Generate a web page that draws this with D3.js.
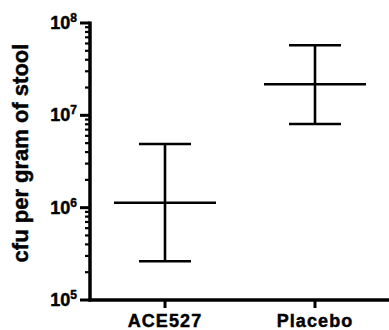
<!DOCTYPE html>
<html>
<head>
<meta charset="utf-8">
<script src="https://cdn.jsdelivr.net/npm/d3@7"></script>
<style>
  html, body { margin: 0; padding: 0; background: #fff; }
  svg { display: block; }
  text { font-family: "Liberation Sans", Arial, sans-serif; font-weight: bold; fill: #000;
         stroke: #000; stroke-width: 0.45px; paint-order: stroke; }
</style>
</head>
<body>
<svg id="chart" width="389" height="330"></svg>
<script>
// Groups and their geometric mean with range (cfu per gram of stool)
const groups = ["ACE527", "Placebo"];
const means = [1.13e6, 2.17e7];
const lows = [2.63e5, 8.07e6];
const highs = [4.9e6, 5.75e7];
const yTickExponents = [5, 6, 7, 8];

const svg = d3.select("#chart");
const margin = { left: 90, right: 0, top: 23, bottom: 30 };
const W = 389, H = 330;

const y = d3.scaleLog().domain([1e5, 1e8]).range([H - margin.bottom, margin.top]);
const x = d3.scalePoint().domain(groups).range([165, 315]);

const ink = "#000";

// Minor ticks (2..9 in each decade)
const minor = [];
for (let e = 5; e < 8; e++) for (let m = 2; m <= 9; m++) minor.push(m * Math.pow(10, e));
svg.append("g").selectAll("line").data(minor).join("line")
  .attr("x1", margin.left - 5).attr("x2", margin.left)
  .attr("y1", d => y(d)).attr("y2", d => y(d))
  .attr("stroke", ink).attr("stroke-width", 2.2);

// Major ticks
svg.append("g").selectAll("line").data(yTickExponents).join("line")
  .attr("x1", margin.left - 10).attr("x2", margin.left)
  .attr("y1", d => y(Math.pow(10, d))).attr("y2", d => y(Math.pow(10, d)))
  .attr("stroke", ink).attr("stroke-width", 3);

// Y tick labels: 10 with superscript exponent
const lab = svg.append("g").selectAll("text").data(yTickExponents).join("text")
  .attr("x", 77).attr("y", d => y(Math.pow(10, d)) + 6)
  .attr("text-anchor", "end");
lab.append("tspan").attr("font-size", 18).text("10");
lab.append("tspan").attr("font-size", 12).attr("dy", -7).text(d => d);

// Axis lines
svg.append("line")
  .attr("x1", margin.left).attr("x2", margin.left)
  .attr("y1", y(1e8) - 1.5).attr("y2", y(1e5) + 1.5)
  .attr("stroke", ink).attr("stroke-width", 3.5);
svg.append("line")
  .attr("x1", margin.left - 1.5).attr("x2", W)
  .attr("y1", y(1e5)).attr("y2", y(1e5))
  .attr("stroke", ink).attr("stroke-width", 3.5);

// X ticks and labels
svg.append("g").selectAll("line").data(groups).join("line")
  .attr("x1", d => x(d)).attr("x2", d => x(d))
  .attr("y1", y(1e5)).attr("y2", y(1e5) + 8)
  .attr("stroke", ink).attr("stroke-width", 3);
svg.append("g").selectAll("text").data(groups).join("text")
  .attr("x", d => x(d)).attr("y", 327)
  .attr("text-anchor", "middle")
  .attr("font-size", 18).attr("letter-spacing", 1.1)
  .text(d => d);

// Y axis title
svg.append("text")
  .attr("transform", "translate(28,153) rotate(-90)")
  .attr("text-anchor", "middle")
  .attr("font-size", 22)
  .text("cfu per gram of stool");

// Mean lines with range whiskers
const bars = svg.append("g").attr("stroke", ink).attr("stroke-width", 2.6).attr("fill", "none");
groups.forEach((g, i) => {
  const cx = x(g);
  bars.append("line").attr("x1", cx).attr("x2", cx).attr("y1", y(highs[i])).attr("y2", y(lows[i]));
  bars.append("line").attr("x1", cx - 26).attr("x2", cx + 26).attr("y1", y(highs[i])).attr("y2", y(highs[i]));
  bars.append("line").attr("x1", cx - 26).attr("x2", cx + 26).attr("y1", y(lows[i])).attr("y2", y(lows[i]));
  bars.append("line").attr("x1", cx - 51).attr("x2", cx + 51).attr("y1", y(means[i])).attr("y2", y(means[i]));
});
</script>
</body>
</html>
